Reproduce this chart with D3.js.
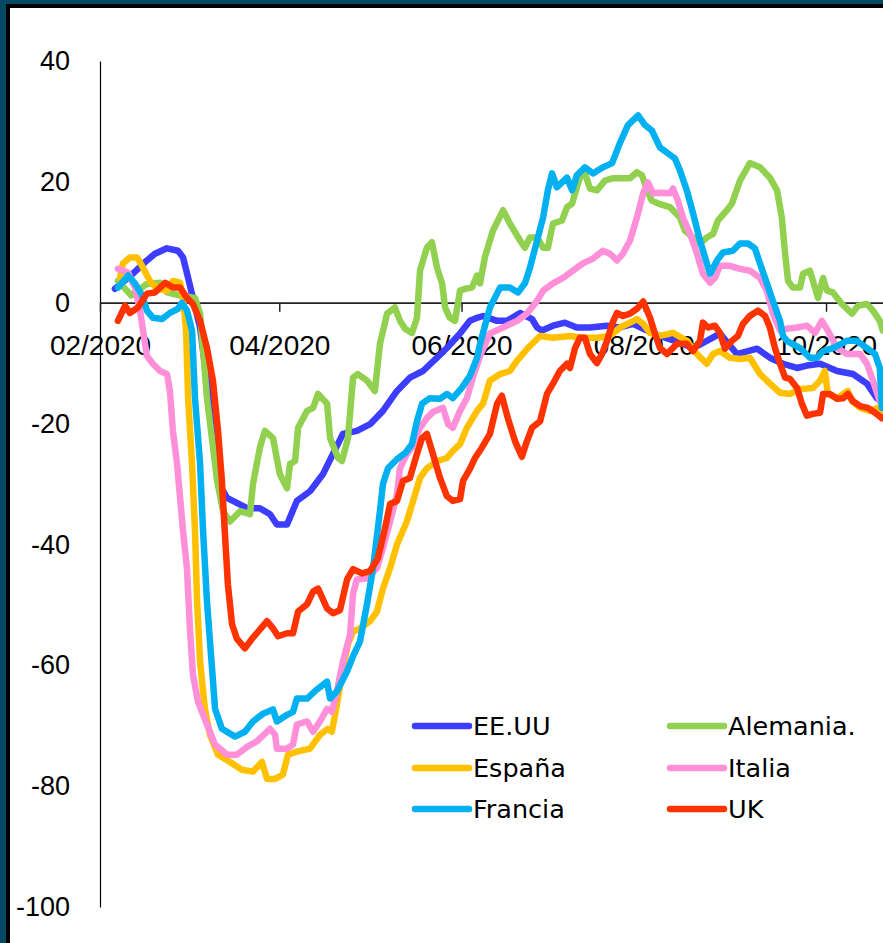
<!DOCTYPE html>
<html>
<head>
<meta charset="utf-8">
<script src="https://cdn.jsdelivr.net/npm/d3@7"></script>
<style>
  html, body { margin: 0; padding: 0; background: #fff; }
  svg { display: block; }
</style>
</head>
<body>
<div id="chart"></div>
<script>
// ---- Data: [days after 15 Feb 2020, value] ----
const seriesNames = ["EE.UU", "Alemania.", "España", "Italia", "Francia", "UK"];
const seriesColors = ["#3d3dff", "#92d050", "#ffc000", "#ff8fd8", "#00b0f0", "#ff3300"];

const eeuu = [[5,2.3],[11,4.8],[15.7,7],[18.4,8.1],[22.4,9],[26.1,8.6],[27.8,7.5],[29.5,4.1],[31.1,0.8],[33.5,-4.1],[35.8,-12.9],[37.8,-22.9],[40.2,-30.3],[42.5,-32.3],[44.5,-32.8],[49.2,-34],[53.5,-34],[56.9,-35],[59.2,-36.7],[62.6,-36.7],[65.9,-32.8],[70.3,-31.2],[74.6,-28.4],[78,-25],[81.3,-21.7],[86,-21.2],[90.4,-20.1],[94.7,-17.9],[99.4,-14.6],[103.7,-12.4],[108.1,-11.3],[112.8,-9.1],[116.1,-7.5],[120.5,-5.1],[123.8,-3],[126.2,-2.5],[128.2,-2.2],[132.9,-3],[136.2,-3],[140.6,-1.7],[144.6,-2.7],[146.3,-4.1],[147.9,-4.6],[151.6,-3.8],[155.6,-3.3],[159.6,-4.1],[164,-4.1],[169.7,-3.8],[174,-4.1],[178.4,-3.5],[183.1,-4.6],[187.4,-5.5],[192.4,-6.3],[198.5,-7.5],[203.1,-6.3],[207.5,-5.1],[213.2,-8.5],[219.9,-7.6],[224.2,-9.1],[228.6,-10.1],[233.3,-10.8],[236.6,-10.4],[241,-10.1],[246.7,-11.3],[252,-11.8],[256.7,-13.4],[260,-15.8],[261.4,-16.3]];

const alemania = [[6,3.6],[10.5,1.2],[15.7,3.1],[20.1,3.3],[22.4,1.7],[26.8,1.2],[31.8,0.8],[33.5,-1.8],[35.8,-15.8],[39.2,-29.5],[41.2,-34.5],[43.5,-36.2],[46.9,-34.5],[50.2,-35],[51.2,-30],[53.5,-24],[55.2,-21.2],[57.9,-22.4],[60.2,-28.4],[62.6,-30.7],[63.6,-26.7],[65.3,-26.2],[66.3,-20.7],[69.3,-17.9],[71.3,-17.4],[73,-15.1],[76,-16.7],[77,-22.4],[79.7,-25.7],[81,-26.2],[83,-22.4],[84.7,-12.4],[86.3,-11.8],[89.4,-12.9],[92,-14.6],[93.7,-6.8],[96.1,-1.8],[98.7,-0.8],[100.4,-3],[102.1,-4.3],[104.4,-5],[106.1,-2.5],[107.1,5.3],[109.4,9.1],[111.1,10],[112.8,5.8],[114.5,3.2],[115.5,-0.8],[117.1,-2.5],[118.8,-3],[120.5,2],[122.2,2.3],[124.5,2.5],[126.2,4.5],[127.2,3.2],[128.8,7.5],[131.5,11.9],[134.9,15.3],[137.2,13.1],[140.6,10.3],[142.2,9.1],[143.9,10.8],[146.3,10.8],[148.3,9.1],[149.9,9.1],[151.6,13.1],[154.6,13.6],[156.3,15.8],[158,16.4],[160.6,20.7],[162.3,21.4],[164,18.9],[166.3,18.6],[169,20.2],[171.7,20.6],[175,20.6],[177.4,20.6],[179.7,21.6],[181.4,21.1],[183.1,18.6],[184.7,16.9],[187.4,16.3],[190.8,15.8],[194.1,14.1],[195.8,11.9],[198.5,10.8],[200.8,9.8],[203.1,10.8],[205.2,11.4],[206.8,13.6],[209.8,15.3],[211.5,16.4],[214.2,20.2],[217.5,23.1],[220.9,22.4],[224.2,20.7],[226.6,18.6],[228.2,14.1],[229.3,8.1],[230.3,3.6],[231.9,2.5],[234.3,2.5],[235.3,4.8],[237.6,5.3],[239.3,2.5],[240.3,0.8],[242,4.1],[243.3,2],[245.3,1.7],[248.3,-0.2],[251.7,-1.8],[253.7,-0.5],[256.7,-0.2],[258.7,-1.3],[261,-3],[262,-4.6]];

const espana = [[6.7,4.1],[7.7,6.5],[10,7.5],[12.4,7.5],[14.4,5.8],[16.7,3.6],[19.1,2.3],[22.4,2],[24.4,3.6],[26.8,3.3],[27.8,0.8],[28.8,-4.6],[29.5,-15.8],[30.8,-26.7],[31.8,-37.8],[32.5,-49.4],[33.5,-59.4],[35.1,-67.2],[36.8,-71.5],[39.5,-74.8],[43.5,-76],[47.5,-77.3],[51.2,-77.6],[54.2,-76],[55.9,-78.8],[58.6,-78.8],[61.2,-78.1],[62.9,-74.8],[65.9,-74.3],[70.3,-73.8],[73.6,-71.5],[76.3,-70.5],[77.6,-71],[79.3,-66.5],[81.3,-60.5],[83,-56.5],[84.7,-54.4],[87,-53.9],[90.4,-52.7],[92.7,-51.1],[94.7,-47.3],[97.1,-43.9],[99.4,-40],[102.7,-36.2],[104.8,-32.8],[107.1,-29],[109.4,-27.4],[112.8,-26.2],[116.1,-25.7],[118.1,-24.5],[120.5,-23.4],[122.8,-20.7],[126.2,-17.9],[128.2,-16.7],[130.5,-12.9],[133.9,-11.8],[137.2,-11.3],[139.6,-9.6],[143.2,-7.5],[147.3,-5.5],[151.6,-5.8],[157.3,-5.5],[161.6,-5.8],[166.3,-5.8],[170.7,-5.5],[174,-4.1],[177.4,-3.3],[179.7,-2.7],[181.8,-3.5],[184.1,-5],[187.4,-5.5],[191.8,-5],[196.4,-6.3],[199.8,-8.5],[203.1,-10.1],[205.2,-8.5],[207.5,-8],[210.8,-9.1],[214.2,-9.3],[217.5,-9.1],[220.9,-11.8],[224.2,-13.4],[227.6,-14.9],[230.9,-15.1],[234.3,-14.3],[238.6,-14.1],[241,-12.9],[242.6,-11.3],[243.6,-15.1],[246.7,-15.8],[250.3,-14.6],[251.7,-16.3],[254.4,-17.4],[257.7,-17.9],[260.4,-17.4],[261.7,-19.1]];

const italia = [[6,5.6],[9.4,5],[11.7,2.5],[13.4,-1.3],[14.4,-4.6],[15.7,-8.8],[17.7,-10.1],[20.1,-11.3],[22.4,-11.8],[23.4,-14.6],[24.4,-21.2],[25.8,-26.7],[26.8,-32.3],[27.8,-37.8],[29.1,-43.9],[30.1,-53.9],[31.1,-61.5],[32.8,-66],[35.8,-69.8],[38.5,-73.1],[42.5,-74.8],[45.8,-74.8],[49.2,-73.5],[52.5,-72.6],[56.9,-70.5],[58.6,-71.5],[59.2,-73.8],[62.6,-73.8],[64.6,-73.1],[65.9,-69.8],[69.3,-69.3],[71.3,-71],[73.6,-69.3],[76,-67.2],[77.6,-67.7],[79.3,-64.3],[81.3,-59.4],[83.7,-54.9],[84.7,-48.1],[86,-45.8],[89.4,-45.6],[92.7,-43.9],[94.7,-40.6],[97.1,-36.2],[99.4,-31.7],[100.4,-27.4],[102.7,-25],[104.4,-24],[107.1,-20.7],[109.4,-19.1],[111.4,-18.1],[114.8,-17.4],[116.5,-20.1],[118.1,-20.7],[120.5,-17.9],[122.8,-15.8],[124.8,-12.4],[127.2,-8.8],[130.5,-5.1],[134.9,-4.1],[139.6,-3],[142.9,-1.8],[146.3,0.3],[148.3,2],[151.6,3.2],[155,4.1],[158.3,5.3],[161.6,6.5],[165,7.3],[168.3,8.6],[170.7,8.1],[173,7],[175,8.1],[177.4,10.3],[179.7,14.1],[181.8,18.1],[183.4,19.9],[185.1,18.1],[187.4,18.2],[190.8,18.1],[191.8,18.9],[193.4,16.9],[195.1,14.1],[197.5,11.4],[199.8,8.1],[201.8,4.8],[204.2,3.3],[205.8,4.1],[207.5,6.1],[210.8,6.1],[214.2,5.6],[217.5,5.3],[220.9,4.1],[223.2,2],[225.2,-1.8],[227.6,-4.6],[229.9,-4.3],[233.3,-4.1],[236.6,-3.8],[239.3,-5],[241.6,-3],[243.6,-4.6],[246.7,-7.5],[250,-8.5],[254.4,-8.5],[256.7,-10.1],[258.7,-12.9],[261,-16.3]];

const francia = [[6,2.5],[9.4,4.5],[11.7,3.2],[14.1,1.2],[15.7,-1.3],[17.7,-2.5],[20.7,-2.7],[23.4,-1.7],[26.1,-1],[27.4,0],[29.1,-1.3],[30.8,-4.6],[31.8,-15.8],[33.5,-26.7],[34.5,-37.8],[35.8,-49.4],[37.5,-60.5],[38.5,-67.2],[40.8,-70.5],[45.2,-71.8],[48.5,-71],[51.2,-69.3],[54.6,-68],[57.9,-67.3],[59.2,-69.3],[62.6,-68.2],[64.6,-67.7],[65.9,-65.5],[69.3,-65.5],[72.6,-64],[76,-62.7],[77,-65.5],[79.3,-64.3],[82.7,-61],[84.7,-58.5],[87,-56.1],[89.4,-49.8],[91.4,-43.9],[92.7,-38.6],[93.7,-34.5],[94.7,-30],[96.4,-27.4],[99.4,-25.9],[102.1,-24.9],[104.4,-23.4],[106.1,-19.6],[107.8,-16.7],[110.4,-15.8],[113.8,-15.9],[116.1,-15.1],[118.1,-15.8],[121.1,-14.1],[123.8,-12.1],[126.2,-9.1],[127.2,-6.8],[130.5,-0.8],[133.9,2.5],[137.2,2.5],[139.9,1.7],[142.2,3.2],[143.9,5.8],[146.3,10.3],[148.3,14.1],[149.9,18.6],[151.3,21.4],[152.9,19.1],[156.3,20.7],[158,18.6],[159.6,21.1],[162.3,22.4],[165,21.4],[168.3,22.4],[171.4,23.1],[174,26.4],[176.7,29.4],[180.1,31],[182.4,29.4],[184.7,28.5],[187.4,25.7],[190.1,24.7],[192.4,23.9],[194.1,21.9],[196.4,18.6],[198.5,14.8],[200.8,10.3],[203.1,6.5],[204.2,4.8],[206.5,7],[208.5,8.3],[211.8,8.6],[214.2,9.8],[216.9,9.8],[219.2,9],[220.9,6.5],[223.2,3.2],[225.2,0.3],[227.6,-3],[228.6,-5.5],[229.9,-6.3],[234.3,-7.5],[237.6,-9.1],[240,-9.1],[242,-8],[245.3,-7.5],[250,-6.3],[253.3,-6.3],[256.7,-7.5],[259.4,-8.5],[261,-10.8],[261.7,-17.4]];

const uk = [[6,-3],[8.4,-0.5],[10,-1.7],[12.7,-0.8],[15.7,1.5],[18.4,1.7],[21.8,3.3],[24.4,2.5],[26.8,2.5],[29.1,0.8],[31.1,-0.2],[33.5,-3],[35.8,-7.5],[37.8,-12.9],[39.5,-21.2],[40.8,-29.5],[41.8,-38.1],[42.8,-46.6],[44.2,-53.2],[45.8,-55.6],[48.5,-57.2],[50.9,-55.6],[53.5,-54.1],[55.9,-52.7],[57.9,-53.9],[59.6,-55.2],[62.6,-54.7],[64.6,-54.7],[66.3,-51.1],[69.3,-49.9],[71.3,-47.8],[73,-47.3],[76,-50.6],[78,-51.4],[80.3,-50.9],[82.7,-45.8],[84.7,-44.1],[87.7,-44.8],[90.4,-44.4],[93,-42.3],[95.4,-37.3],[97.1,-33.3],[99.4,-32.8],[101.4,-29.5],[103.7,-29],[106.1,-25],[107.8,-22.4],[109.4,-21.7],[111.4,-25],[113.8,-29],[116.1,-32],[118.1,-32.8],[120.5,-32.5],[121.5,-29.5],[123.8,-27.5],[125.5,-25.7],[127.8,-24],[130.5,-21.7],[132.9,-16.7],[134.5,-15.4],[136.5,-19.1],[138.9,-22.9],[141.2,-25.5],[142.9,-22.9],[144.6,-20.7],[147.3,-19.6],[149.6,-15.1],[151.6,-13.4],[153.9,-11.3],[156.3,-10.1],[157.3,-10.8],[159,-7.5],[160.6,-5.8],[162.3,-5.8],[164,-8.5],[166.3,-10],[168,-8.5],[169.7,-6.3],[171.4,-3.5],[173,-1.7],[175,-2.2],[177.4,-1.8],[179.7,-1],[181.8,0.2],[184.1,-2.5],[185.7,-5.1],[187.4,-7.5],[189.8,-8.5],[193.1,-6.8],[196.4,-6.8],[198.5,-8],[200.8,-6.3],[201.8,-3.3],[203.5,-4.1],[205.8,-3.8],[207.5,-5],[209.2,-7.6],[211.5,-6.3],[213.5,-5.5],[215.2,-3.5],[217.5,-2.2],[220.2,-1.3],[222.6,-2.2],[224.2,-4.1],[225.9,-7.5],[227.6,-10.1],[229.3,-12.4],[230.9,-12.6],[233.3,-14.1],[234.9,-16.7],[236.6,-18.7],[238.6,-18.4],[241,-18.2],[242,-15.1],[244.3,-15.1],[246.7,-15.9],[248.7,-15.8],[250.3,-15.1],[252,-16.3],[254.4,-17.1],[257,-17.4],[259.4,-18.2],[261.7,-19.1]];

const seriesData = [eeuu, alemania, espana, italia, francia, uk];
const yTicks = [40, 20, 0, -20, -40, -60, -80, -100];
const xTickDates = ["2020-02-15", "2020-04-15", "2020-06-15", "2020-08-15", "2020-10-15"];
const baseDate = "2020-02-15";
const endDate = "2020-11-03";

// ---- Drawing ----
const W = 883, H = 943;
const parse = d3.utcParse("%Y-%m-%d");
const base = parse(baseDate);
const toDate = d => new Date(base.getTime() + d * 864e5);

const svg = d3.select("#chart").append("svg")
  .attr("width", W).attr("height", H)
  .attr("font-family", "'DejaVu Sans', sans-serif");

// frame
svg.append("rect").attr("x", 0).attr("y", 0).attr("width", W).attr("height", H).attr("fill", "#024a63");
svg.append("rect").attr("x", 6).attr("y", 4).attr("width", W).attr("height", H).attr("fill", "#000");
svg.append("rect").attr("x", 10).attr("y", 8).attr("width", W).attr("height", H).attr("fill", "#fff");

const x = d3.scaleUtc().domain([base, parse(endDate)]).range([100, 882.8]);
const y = d3.scaleLinear().domain([-100, 40]).range([907, 61]);

// y axis
const yAxis = svg.append("g").attr("transform", "translate(100,0)")
  .call(d3.axisLeft(y).tickValues(yTicks).tickSize(0).tickPadding(30).tickFormat(d3.format("d")));
yAxis.select(".domain").attr("stroke", "#000").attr("stroke-width", 1.2);
yAxis.selectAll("text").attr("font-size", 27).attr("fill", "#000")
  .text(d => d < 0 ? "-" + Math.abs(d) : d);

// x axis at zero
const xAxis = svg.append("g").attr("transform", `translate(0,${y(0)})`)
  .call(d3.axisBottom(x).tickValues(xTickDates.map(parse)).tickSize(9).tickSizeOuter(0)
    .tickPadding(23).tickFormat(d3.utcFormat("%m/%Y")));
xAxis.select(".domain").attr("stroke", "#222").attr("stroke-width", 1.8);
xAxis.selectAll(".tick line").attr("stroke", "#222").attr("stroke-width", 1.5);
xAxis.selectAll("text").attr("font-size", 28).attr("fill", "#000");

// lines
const line = d3.line().x(d => x(toDate(d[0]))).y(d => y(d[1]));
svg.append("g").selectAll("path").data(seriesData).join("path")
  .attr("d", line)
  .attr("fill", "none")
  .attr("stroke", (d, i) => seriesColors[i])
  .attr("stroke-width", 6.5)
  .attr("stroke-linejoin", "round")
  .attr("stroke-linecap", "round");

// legend
const legCols = [415, 670];
const legRows = [726, 768, 809];
const leg = svg.append("g").selectAll("g").data(seriesNames).join("g")
  .attr("transform", (d, i) => `translate(${legCols[i % 2]},${legRows[Math.floor(i / 2)]})`);
leg.append("line").attr("x1", 0).attr("x2", 54).attr("y1", 0).attr("y2", 0)
  .attr("stroke", (d, i) => seriesColors[i]).attr("stroke-width", 6.5).attr("stroke-linecap", "round");
leg.append("text").attr("x", 58).attr("y", 0).attr("dy", "0.36em")
  .attr("font-size", 25.5).attr("fill", "#000").text(d => d);
</script>
</body>
</html>
